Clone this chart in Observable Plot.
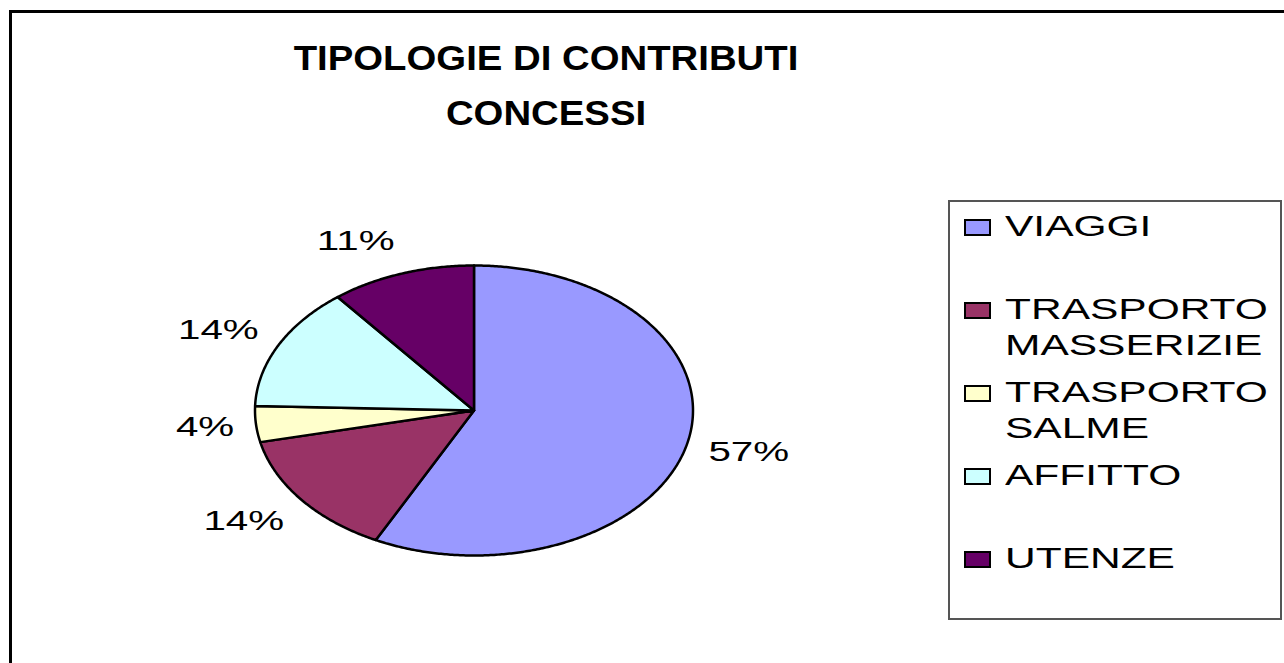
<!DOCTYPE html>
<html><head><meta charset="utf-8">
<script src="https://cdn.jsdelivr.net/npm/d3@7"></script>
<script src="https://cdn.jsdelivr.net/npm/@observablehq/plot@0.6"></script>
<style>
html,body{margin:0;padding:0;background:#fff;}
#page{position:relative;width:1284px;height:663px;overflow:hidden;font-family:"Liberation Sans",Arial,sans-serif;color:#000;}
#frame{position:absolute;left:9px;top:10px;width:1400px;height:800px;border-left:3px solid #000;border-top:3px solid #000;}
#title{position:absolute;left:246px;top:30px;width:600px;text-align:center;font-weight:bold;font-size:35px;line-height:55px;transform:scaleX(1.095);transform-origin:300px 0;white-space:nowrap;}
#chart{position:absolute;left:0;top:0;}
#legend{position:absolute;left:948px;top:200px;width:334px;height:420px;border:2px solid #555;box-sizing:border-box;}
.item{position:absolute;left:0;}
.sw{position:absolute;left:14px;top:11px;width:27px;height:17px;border:2.5px solid #000;box-sizing:border-box;}
.lab{position:absolute;left:55px;top:0;font-size:29.5px;line-height:36px;white-space:nowrap;transform:scaleX(1.44);transform-origin:0 0;}
</style></head>
<body><div id="page"><div id="frame"></div><div id="title">TIPOLOGIE DI CONTRIBUTI<br>CONCESSI</div><div id="chart"></div><div id="legend"></div></div>
<script>
const categories = ["VIAGGI", "TRASPORTO MASSERIZIE", "TRASPORTO SALME", "AFFITTO", "UTENZE"];
const legendLabels = [["VIAGGI"], ["TRASPORTO", "MASSERIZIE"], ["TRASPORTO", "SALME"], ["AFFITTO"], ["UTENZE"]];
const values = [57.4, 14.1, 4.0, 13.8, 10.7];
const colors = ["#9999FF", "#993366", "#FFFFCC", "#CCFFFF", "#660066"];

const total = d3.sum(values);
let cum = 0;
const slices = categories.map((c, i) => {
  const a0 = cum / total * 2 * Math.PI; cum += values[i];
  const a1 = cum / total * 2 * Math.PI;
  return {c, a0, a1, v: values[i]};
});
const pts = [];
for (const s of slices) {
  pts.push({c: s.c, x: 0, y: 0});
  const n = Math.max(2, Math.ceil((s.a1 - s.a0) / (Math.PI / 360)));
  for (let k = 0; k <= n; k++) {
    const a = s.a0 + (s.a1 - s.a0) * k / n;
    pts.push({c: s.c, x: Math.sin(a), y: Math.cos(a)});
  }
}
const labels = slices.map(s => {
  const m = (s.a0 + s.a1) / 2, ux = Math.sin(m), uy = Math.cos(m);
  return {ux, x: 1.1 * ux, y: uy * (1.1 + 0.138), text: Math.round(s.v / total * 100) + "%"};
});

const plot = Plot.plot({
  width: 1284, height: 663, margin: 0,
  x: {domain: [-1, 1], range: [254.5, 692.5], axis: null},
  y: {domain: [-1, 1], range: [555, 265], axis: null},
  color: {domain: categories, range: colors},
  style: {fontFamily: '"Liberation Sans", Arial, sans-serif', background: "transparent", overflow: "visible"},
  marks: [
    Plot.line(pts, {x: "x", y: "y", z: "c", fill: "c", stroke: "#000", strokeWidth: 2.5, curve: "linear-closed", strokeLinejoin: "round"}),
    Plot.text(labels.filter(d => d.ux >= 0), {x: "x", y: "y", text: "text", textAnchor: "start", fontSize: 28, fill: "#000"}),
    Plot.text(labels.filter(d => d.ux < 0), {x: "x", y: "y", text: "text", textAnchor: "end", fontSize: 28, fill: "#000"})
  ]
});
document.getElementById("chart").append(plot);
d3.select(plot).selectAll("g[aria-label=text] text").each(function() {
  const w = this.getComputedTextLength();
  this.setAttribute("textLength", w * 1.44);
  this.setAttribute("lengthAdjust", "spacingAndGlyphs");
});

const legend = d3.select("#legend");
categories.forEach((c, i) => {
  const item = legend.append("div").attr("class", "item").style("top", (6 + 83 * i) + "px");
  item.append("div").attr("class", "sw").style("background", colors[i]);
  item.append("div").attr("class", "lab").html(legendLabels[i].join("<br>"));
});
</script>
</body></html>
